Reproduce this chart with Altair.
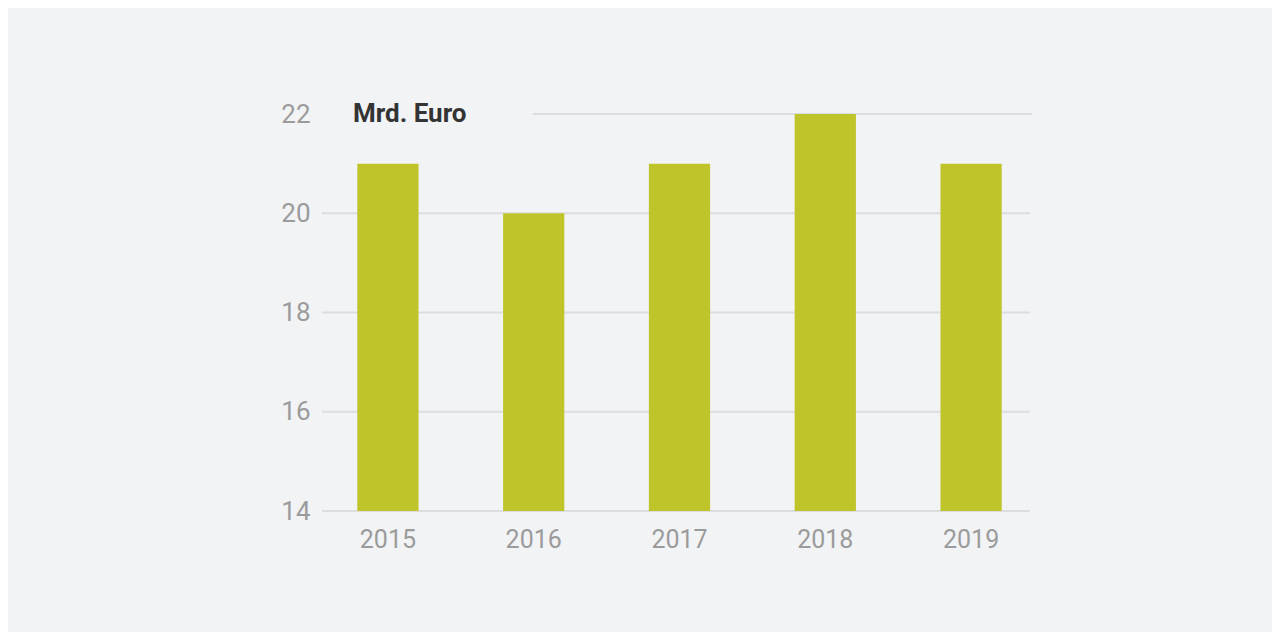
import altair as alt
import pandas as pd

years = ["2015", "2016", "2017", "2018", "2019"]
values = [21, 20, 21, 22, 21]
grid_values = [14, 16, 18, 20]
top_grid = [22]

bars_df = pd.DataFrame({"year": years, "value": values})

W, H = 729, 397
BG = "#f2f3f5"
GRID = "#dcdde0"
LABEL = "#9b9b9b"

x = alt.X("year:N", sort=years, title=None,
          scale=alt.Scale(paddingInner=0.58, paddingOuter=0.29),
          axis=alt.Axis(labelAngle=0, labelFont="Roboto", labelFontSize=25,
                        labelColor=LABEL, labelPadding=16, ticks=False,
                        domain=False, grid=False))
yscale = alt.Scale(domain=[14, 22], nice=False, zero=False)

grid = alt.Chart(pd.DataFrame({"v": grid_values})).mark_rule(
    color=GRID, strokeWidth=2).encode(
    y=alt.Y("v:Q", scale=yscale, title=None,
            axis=alt.Axis(values=[14, 16, 18, 20, 22], labelFont="Roboto",
                          labelFontSize=26, labelColor=LABEL,
                          labelPadding=5, ticks=False, domain=False, grid=False)),
    x=alt.value(7), x2=alt.value(715))

grid_top = alt.Chart(pd.DataFrame({"v": top_grid})).mark_rule(
    color=GRID, strokeWidth=2).encode(
    y=alt.Y("v:Q", scale=yscale), x=alt.value(218), x2=alt.value(717))

bars = alt.Chart(bars_df).mark_bar(color="#bfc42a").encode(
    x=x,
    y=alt.Y("value:Q", scale=yscale),
    y2=alt.datum(14))

title = alt.Chart(pd.DataFrame({"t": ["Mrd. Euro"]})).mark_text(
    font="Roboto", fontSize=26, fontWeight="bold", color="#333333",
    align="left", baseline="alphabetic").encode(
    text="t:N", x=alt.value(38), y=alt.value(8))

chart = alt.layer(grid, grid_top, bars, title).properties(
    width=W, height=H,
    background=BG,
    padding={"left": 307, "top": 106, "right": 228, "bottom": 121},
    autosize=alt.AutoSizeParams(type="none"),
).configure_view(stroke=None)

chart.save("out.html", embed_options={"renderer": "svg", "actions": False})
